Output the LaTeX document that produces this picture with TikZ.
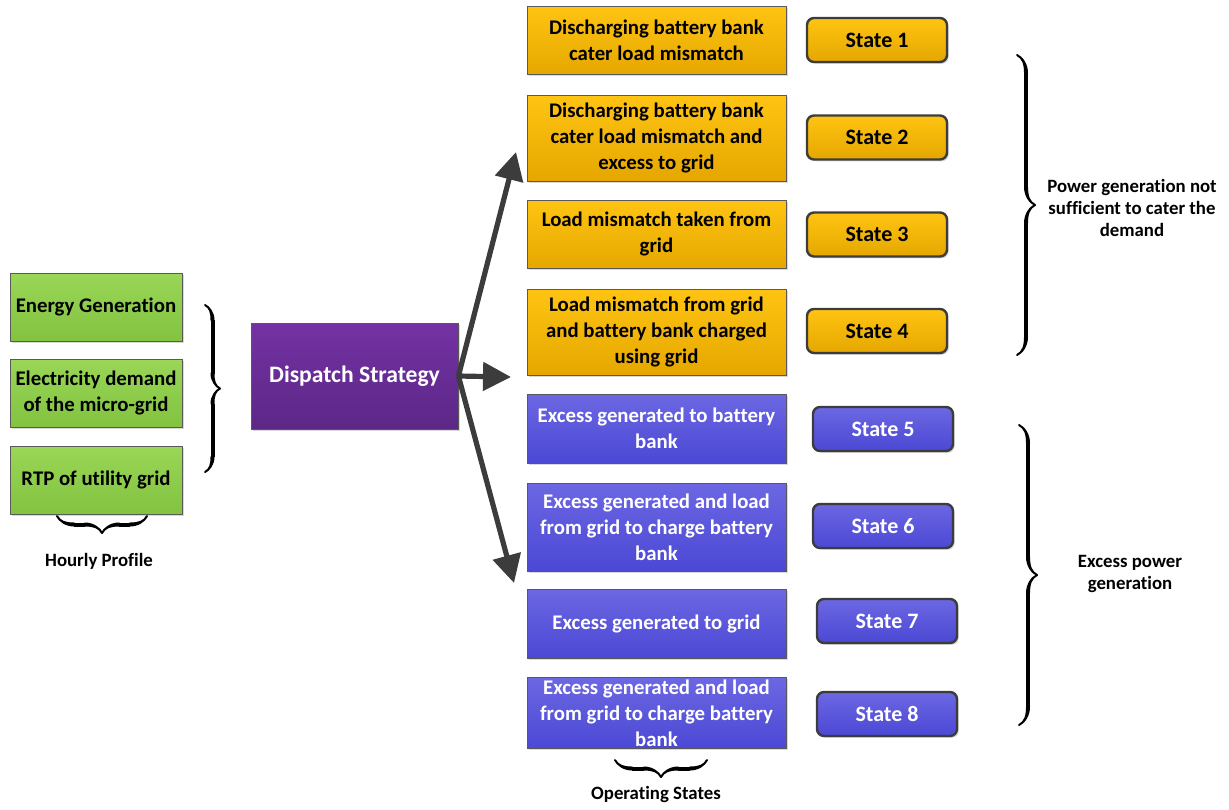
\documentclass[tikz,border=0pt]{standalone}
\usepackage{fontspec}
\setmainfont[Ligatures=NoCommon]{Carlito}
\usetikzlibrary{arrows.meta,shadows,decorations.pathreplacing,calligraphy}
\definecolor{vertH}{HTML}{9AD657}
\definecolor{vertB}{HTML}{82C340}
\definecolor{violH}{HTML}{7432A3}
\definecolor{violB}{HTML}{5C2787}
\definecolor{orH}{HTML}{FFC412}
\definecolor{orB}{HTML}{E5A700}
\definecolor{bleuH}{HTML}{6C67E2}
\definecolor{bleuB}{HTML}{4B48D5}
\definecolor{fonce}{HTML}{3C3C3C}

\begin{document}
\begin{tikzpicture}  % ------ Strategie de dispatch ---------------
      [x=0.5pt,y=-0.5pt,
       boite/.style={draw=gray!70!black,line width=0.4pt,align=center,inner sep=1pt,
         font=\bfseries\fontsize{10.4}{13.1}\selectfont,
         drop shadow={shadow xshift=0.9pt,shadow yshift=-0.9pt,opacity=0.3}},
       vert/.style={boite,top color=vertH,bottom color=vertB,minimum width=86pt,minimum height=34pt},
       mode/.style={boite,top color=orH,bottom color=orB,minimum width=129.5pt,minimum height=34pt},
       exces/.style={mode,top color=bleuH,bottom color=bleuB,text=white},
       etat/.style={boite,draw=fonce,line width=1.2pt,rounded corners=3.5pt,font=\bfseries\fontsize{11}{13}\selectfont,
         minimum width=70pt,minimum height=22pt,top color=orH,bottom color=orB},
       etatb/.style={etat,top color=bleuH,bottom color=bleuB,text=white},
       fleche/.style={draw=fonce,line width=2.6pt,-{Triangle[length=14pt,width=14pt]}},
       accol/.style={decorate,decoration={calligraphic brace,amplitude=#1},line width=2pt},
       legende/.style={font=\bfseries\fontsize{9.4}{11}\selectfont,align=center}]
    \useasboundingbox (0,0) rectangle (1229,809);

    % entrees horaires
    \node[vert] (gen) at (96,307) {Energy Generation};
    \node[vert] (dem) at (96,393) {Electricity demand\\of the micro-grid};
    \node[vert] (rtp) at (96,480) {RTP of utility grid};

    \node[boite,top color=violH,bottom color=violB,text=white,minimum width=103.5pt,
          minimum height=53pt,font=\bfseries\fontsize{11.8}{14}\selectfont] (disp) at (354.5,376) {Dispatch Strategy};

    % modes de fonctionnement
    \node[mode] (m1) at (656.5,40.5) {Discharging battery bank\\cater load mismatch};
    \node[mode,minimum height=43pt] (m2) at (656.5,138) {Discharging battery bank\\cater load mismatch and\\excess to grid};
    \node[mode] (m3) at (656.5,234) {Load mismatch taken from\\grid};
    \node[mode,minimum height=43pt] (m4) at (656.5,332) {Load mismatch from grid\\and battery bank charged\\using grid};
    \node[exces,minimum height=34.5pt] (m5) at (656.5,428.5) {Excess generated to battery\\bank};
    \node[exces,minimum height=44pt] (m6) at (656.5,527) {Excess generated and load\\from grid to charge battery\\bank};
    \node[exces,minimum height=34.5pt] (m7) at (656.5,623.5) {Excess generated to grid};
    \node[exces,minimum height=35pt] (m8) at (656.5,713) {Excess generated and load\\from grid to charge battery\\bank};

    \node[etat] (s1) at (877,40) {State 1};
    \node[etat] (s2) at (877,137.5) {State 2};
    \node[etat] (s3) at (877,234.5) {State 3};
    \node[etat] (s4) at (877,331) {State 4};
    \node[etatb] (s5) at (883,429) {State 5};
    \node[etatb] (s6) at (883,526) {State 6};
    \node[etatb] (s7) at (887,621) {State 7};
    \node[etatb] (s8) at (887,714) {State 8};

    % fleches
    \coordinate (haut) at (516,152);
    \coordinate (milieu) at (511,377);
    \coordinate (bas) at (514,583);
    \draw[fleche] (disp.east) -- (haut);
    \draw[fleche] (disp.east) -- (milieu);
    \draw[fleche] (disp.east) -- (bas);

    % accolades
    \draw[accol=7.5pt] (205,305) -- (205,472);
    \draw[accol=8.5pt] (147,516) -- (57,516);
    \draw[accol=8.5pt] (707,760) -- (615,760);
    \draw[accol=9pt] (1017,55) -- (1017,355);
    \draw[accol=9pt] (1019,425) -- (1019,725);

    \node[legende] (hp) at (99,561) {Hourly Profile};
    \node[legende] (os) at (656,794) {Operating States};
    \node[legende] (ns) at (1132,208) {Power generation not\\sufficient to cater the\\demand};
    \node[legende] (ex) at (1130,574) {Excess power\\generation};
\end{tikzpicture}
\end{document}
